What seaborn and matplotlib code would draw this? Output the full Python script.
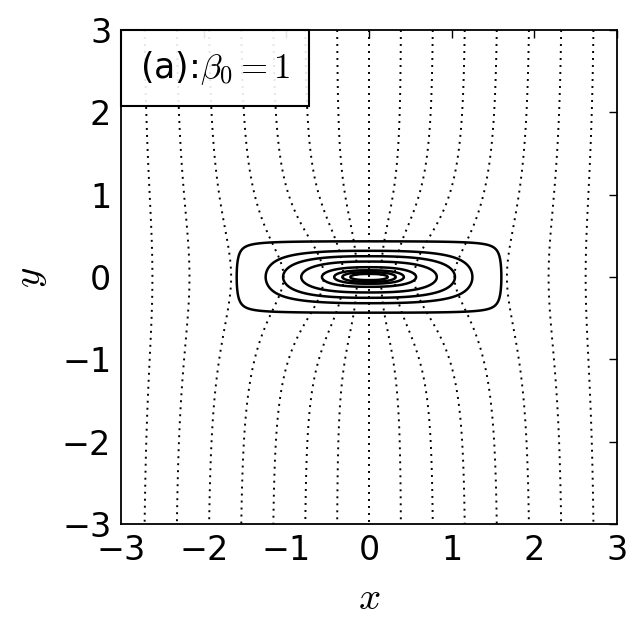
import numpy as np
import matplotlib
matplotlib.use("Agg")
import matplotlib.pyplot as plt
import seaborn as sns
from matplotlib.offsetbox import AnchoredText

# ======================
# 1. 数据
# ======================
# 实线：岛状闭合等值线的水平
solid_levels = [0.073, 0.50, 0.685, 0.826, 0.93, 0.967, 0.983, 0.993]
# 岛的半宽、半高与形状指数
island_half_width = 1.65
island_half_height = 0.45
island_exp_x = 2.5
island_exp_y = 2.0

# 点线：场线的水平（约等于 y=3 处的 x 截距）
dotted_levels = [-2.73, -2.34, -1.95, -1.56, -1.17, -0.78, -0.39, 0.0,
                 0.39, 0.78, 1.17, 1.56, 1.95, 2.34, 2.73]
# 场线在中心附近的弯曲强度与尺度
bend_amp = 1.74
bend_ax2 = 1.26
bend_ay2 = 0.85

x_ticks = [-3, -2, -1, 0, 1, 2, 3]
y_ticks = [-3, -2, -1, 0, 1, 2, 3]
panel_label = r"(a):$\beta_0=1$"

# ======================
# 2. 网格与场
# ======================
xs = np.linspace(-3, 3, 701)
ys = np.linspace(-3, 3, 701)
X, Y = np.meshgrid(xs, ys)

fx = np.clip(1 - (np.abs(X) / island_half_width) ** island_exp_x, 0, None)
gy = np.clip(1 - (np.abs(Y) / island_half_height) ** island_exp_y, 0, None)
island = fx * gy

psi = X * (1 + bend_amp / (1 + X**2 / bend_ax2 + Y**2 / bend_ay2) ** 2)

# ======================
# 3. 绘图
# ======================
sns.set_style("white")
plt.rcParams["mathtext.fontset"] = "cm"
plt.rcParams["font.family"] = ["DejaVu Sans"]
for key in ["text.color", "axes.labelcolor", "xtick.color", "ytick.color"]:
    plt.rcParams[key] = "black"

fig = plt.figure(figsize=(6.41, 6.28), dpi=100)
ax = fig.add_axes([0.1888, 0.1656, 0.7738, 0.7866])

ax.contour(X, Y, psi, levels=dotted_levels, colors="k",
           linewidths=1.4, linestyles=[(0, (1, 2.6))])
ax.contour(X, Y, island, levels=solid_levels, colors="k", linewidths=1.8)

ax.set_xlim(-3, 3)
ax.set_ylim(-3, 3)
ax.set_xticks(x_ticks)
ax.set_yticks(y_ticks)
ax.tick_params(direction="in", length=6, width=1, labelsize=24,
               top=True, right=True, pad=7)
for sp in ax.spines.values():
    sp.set_linewidth(1.3)
    sp.set_color("k")

ax.set_xlabel("$x$", fontsize=28, labelpad=9)
ax.set_ylabel("$y$", fontsize=28, labelpad=9)

at = AnchoredText(panel_label, loc="upper left", borderpad=0, pad=0.55,
                  prop=dict(size=25), frameon=True)
at.patch.set_facecolor((1, 1, 1, 0.9))
at.patch.set_edgecolor("k")
at.patch.set_linewidth(1.5)
at.patch.set_boxstyle("square,pad=0")
ax.add_artist(at)

fig.savefig("out.png", dpi=100)
